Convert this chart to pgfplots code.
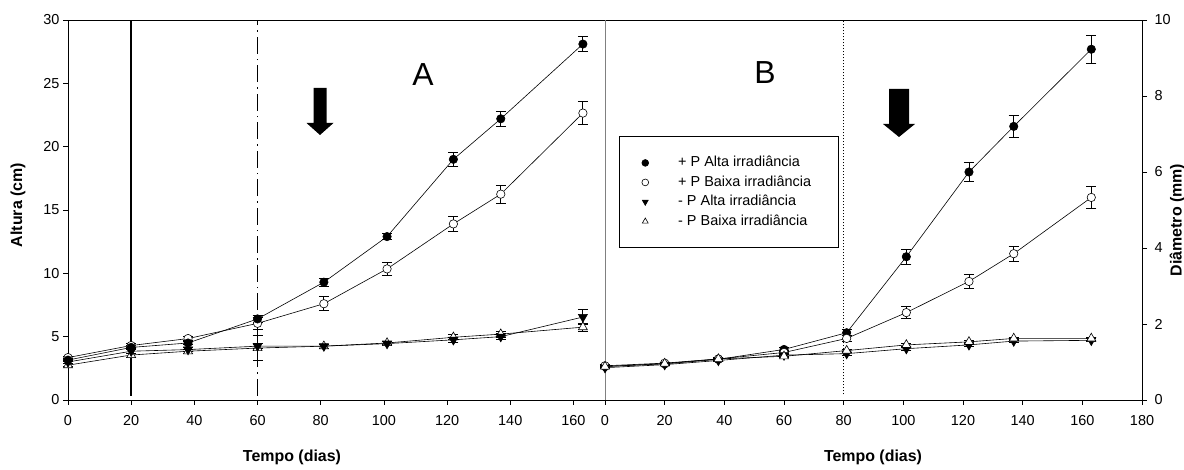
\documentclass[border=0pt]{standalone}
\usepackage{pgfplots}
\pgfplotsset{compat=1.18}
\usepackage{fontspec}
\setmainfont{Liberation Sans}
\begin{document}
\begin{tikzpicture}[x=1bp,y=1bp]
\useasboundingbox (0,0) rectangle (1184,470);
\pgfplotsset{
  panel/.style={
    scale only axis, width=537bp, height=380bp, anchor=south west,
    tick align=outside, major tick length=5bp,
    tick style={black, line width=0.7bp},
    axis line style={black, line width=0.8bp},
    ticklabel style={font=\fontsize{14.5}{15}\selectfont},
    xticklabel style={yshift=-7bp},
    /pgf/number format/assume math mode=true,
    clip=false,
  },
  s/.style={black, line width=0.6bp,
    error bars/y dir=both, error bars/y explicit,
    error bars/error bar style={line width=0.8bp, black, solid},
    error bars/error mark options={mark size=5bp, line width=0.8bp, black, rotate=90}},
  fc/.style={s, mark=*, mark size=4.2bp, mark options={fill=black, solid}},
  oc/.style={s, mark=*, mark size=4.2bp, mark options={fill=white, solid}},
  dt/.style={s, mark=triangle*, mark size=5.2bp, mark options={rotate=180, fill=black, solid}},
  ut/.style={s, mark=triangle*, mark size=5.2bp, mark options={fill=white, solid}},
}
% ---------- Panel A ----------
\begin{axis}[panel, at={(68bp,70bp)},
  xmin=0, xmax=170, ymin=0, ymax=30,
  xtick={0,20,...,160}, ytick={0,5,...,30},
  xtick pos=left, ytick pos=left]
\draw[line width=1.6bp] (axis cs:20,0.35) -- (axis cs:20,30);
\draw[line width=1.4bp, dash pattern=on 17bp off 5bp on 1.5bp off 5bp] (axis cs:60,0.35) -- (axis cs:60,30);
\addplot[ut] coordinates {(0,2.75)+-(0,0.1) (20,3.55)+-(0,0.15) (38,3.85)+-(0,0.15) (60,4.1)+-(0,1.0) (81,4.25)+-(0,0.15) (101,4.5)+-(0,0.15) (122,4.95)+-(0,0.2) (137,5.2)+-(0,0.25) (163,5.75)+-(0,0.3)};
\addplot[dt] coordinates {(0,3.0)+-(0,0.1) (20,3.85)+-(0,0.2) (38,3.98)+-(0,0.15) (60,4.25)+-(0,0.2) (81,4.25)+-(0,0.15) (101,4.45)+-(0,0.15) (122,4.75)+-(0,0.2) (137,5.0)+-(0,0.25) (163,6.55)+-(0,0.6)};
\addplot[oc] coordinates {(0,3.35)+-(0,0.1) (20,4.3)+-(0,0.15) (38,4.85)+-(0,0.15) (60,6.05)+-(0,0.5) (81,7.6)+-(0,0.55) (101,10.35)+-(0,0.55) (122,13.9)+-(0,0.6) (137,16.25)+-(0,0.7) (163,22.65)+-(0,0.9)};
\addplot[fc] coordinates {(0,3.15)+-(0,0.1) (20,4.15)+-(0,0.15) (38,4.5)+-(0,0.15) (60,6.4)+-(0,0.25) (81,9.3)+-(0,0.3) (101,12.9)+-(0,0.25) (122,19.0)+-(0,0.55) (137,22.2)+-(0,0.6) (163,28.1)+-(0,0.6)};
\end{axis}
% ---------- Panel B ----------
\begin{axis}[panel, at={(605bp,70bp)},
  xmin=0, xmax=180, ymin=0, ymax=10,
  xtick={0,20,...,180}, ytick={0,2,...,10},
  xtick pos=left, ytick pos=right, yticklabel pos=right,
  yticklabel style={xshift=4bp},
  legend cell align=left,
  legend image code/.code={\draw[#1, mark size=3.4bp, only marks] plot coordinates {(0.3cm,0cm)};},
  legend style={at={(rel axis cs:0.026,0.694)}, anchor=north west, draw=black, line width=0.8bp,
    font=\fontsize{14.5}{14.5}\selectfont, inner xsep=22.5bp, inner ysep=18bp, row sep=3bp, column sep=28.5bp,
    nodes={inner sep=1bp, text height=11bp, text depth=3.5bp}}]
\draw[line width=0.9bp, dash pattern=on 1bp off 2bp] (axis cs:80,0.15) -- (axis cs:80,10);
\addplot[fc] coordinates {(0,0.88)+-(0,0.03) (20,0.95)+-(0,0.03) (38,1.07)+-(0,0.03) (60,1.33)+-(0,0.05) (81,1.77)+-(0,0.08) (101,3.77)+-(0,0.2) (122,6.0)+-(0,0.26) (137,7.2)+-(0,0.28) (163,9.23)+-(0,0.37)};
\addlegendentry{+ P Alta irradiância}
\addplot[oc] coordinates {(0,0.9)+-(0,0.03) (20,0.97)+-(0,0.03) (38,1.08)+-(0,0.03) (60,1.25)+-(0,0.05) (81,1.62)+-(0,0.08) (101,2.3)+-(0,0.15) (122,3.12)+-(0,0.18) (137,3.85)+-(0,0.2) (163,5.33)+-(0,0.3)};
\addlegendentry{+ P Baixa irradiância\hspace*{4bp}}
\addplot[dt] coordinates {(0,0.85)+-(0,0.03) (20,0.93)+-(0,0.03) (38,1.04)+-(0,0.03) (60,1.18)+-(0,0.04) (81,1.22)+-(0,0.04) (101,1.35)+-(0,0.04) (122,1.45)+-(0,0.04) (137,1.55)+-(0,0.04) (163,1.57)+-(0,0.04)};
\addlegendentry{- P Alta irradiância}
\addplot[ut] coordinates {(0,0.88)+-(0,0.03) (20,0.96)+-(0,0.03) (38,1.08)+-(0,0.03) (60,1.15)+-(0,0.04) (81,1.3)+-(0,0.04) (101,1.45)+-(0,0.04) (122,1.53)+-(0,0.04) (137,1.62)+-(0,0.04) (163,1.62)+-(0,0.04)};
\addlegendentry{- P Baixa irradiância}
\draw[gray, line width=0.8bp] (rel axis cs:0,0) -- (rel axis cs:0,1);
\end{axis}
% arrows
\fill (313.5,382) -- (326.5,382) -- (326.5,347) -- (333.5,347) -- (320,335) -- (306.5,347) -- (313.5,347) -- cycle;
\fill (889,381) -- (909,381) -- (909,346) -- (915,346) -- (899,333) -- (883,346) -- (889,346) -- cycle;
% panel letters
\node[font=\fontsize{32}{32}\selectfont] at (423,395) {A};
\node[font=\fontsize{32}{32}\selectfont] at (765,397) {B};
% axis titles
\node[font=\fontsize{16}{16}\selectfont\bfseries, rotate=90] at (18,265) {Altura (cm)};
\node[font=\fontsize{16}{16}\selectfont\bfseries, anchor=base] at (292,8) {Tempo (dias)};
\node[font=\fontsize{16}{16}\selectfont\bfseries, anchor=base] at (873,8) {Tempo (dias)};
\node[font=\fontsize{16}{16}\selectfont\bfseries, rotate=90, anchor=base] at (1181.5,250) {Diâmetro (mm)};
\end{tikzpicture}
\end{document}
